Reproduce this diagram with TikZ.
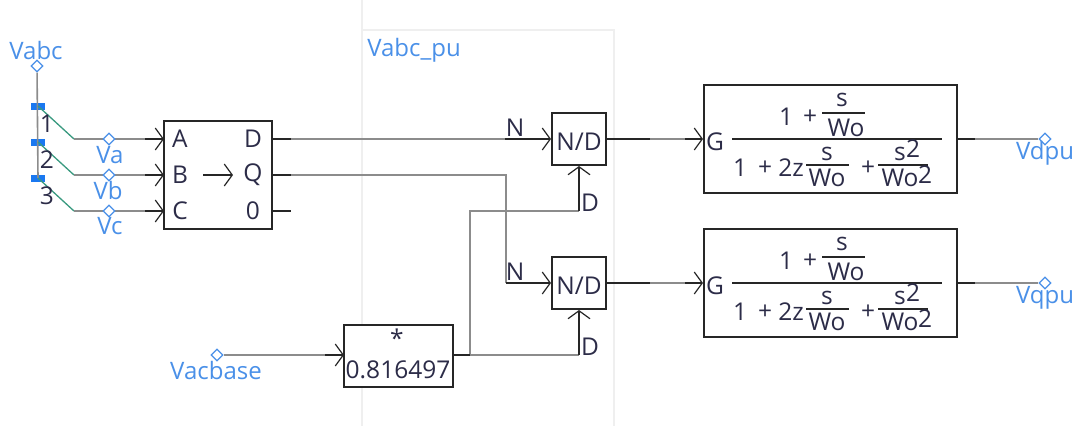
\documentclass[tikz,border=0pt]{standalone}
\usepackage{fontspec}
\setmainfont{Open Sans}
\usetikzlibrary{shapes.geometric, arrows.meta}
\definecolor{labelblue}{HTML}{4A90E8}
\definecolor{wiregrey}{HTML}{8C8C8C}
\definecolor{textdark}{HTML}{2C2C48}
\definecolor{sheetgrey}{HTML}{EFEFEF}
\definecolor{busgreen}{HTML}{3A9A80}
\definecolor{busblue}{HTML}{1A78F0}
\tikzset{
  >={Straight Barb[length=8pt,width=22pt,line width=1.2pt]},
  lbl/.style={inner sep=0pt, text=textdark, font=\fontsize{24.5}{27}\selectfont},
  sig/.style={inner sep=0pt, text=labelblue, font=\fontsize{24}{27}\selectfont},
  block/.style={rectangle, draw=black!85, line width=2pt, fill=white, inner sep=0pt},
  term/.style={diamond, draw=labelblue, fill=white, line width=1.3pt, inner sep=0pt, minimum size=12pt},
  wire/.style={draw=wiregrey, line width=1.6pt},
  stub/.style={draw=black!85, line width=2pt},
  busbar/.style={rectangle, fill=busblue, inner sep=0pt, minimum width=14pt, minimum height=7pt},
  fracline/.style={draw=black!85, line width=1.6pt}
}
\begin{document}
\begin{tikzpicture}[x=1pt, y=-1pt]
\useasboundingbox (0,0) rectangle (1080,426);
\coordinate (s1) at (362,426);
\coordinate (s2) at (362,0);
\coordinate (s3) at (362,30);
\coordinate (s4) at (614,30);
\coordinate (s5) at (614,426);
\draw[sheetgrey, line width=1.2pt] (s1) -- (s2);
\draw[sheetgrey, line width=1.2pt] (s3) -- (s4) -- (s5);
\node[sig] (vabcpu) at (414,50) {Vabc\_pu};

% bus and the three phases
\node[term] (vabc) at (37,66) {};
\node[sig] (vabclabel) at (36,50) {Vabc};
\node[busbar] (b1) at (38,106) {};
\node[busbar] (b2) at (38,142) {};
\node[busbar] (b3) at (38,178) {};
\draw[wire] (vabc) -- (b3.center);
\node[block, minimum width=108pt, minimum height=108pt] (abc) at (218,175) {};
\node[lbl] (pa) at (180,139) {A};
\node[lbl] (pb) at (180,175) {B};
\node[lbl] (pc) at (180,211) {C};
\node[lbl] (pd) at (253,139) {D};
\node[lbl] (pq) at (253,175) {Q};
\node[lbl] (p0) at (253,211) {0};
\coordinate (ar1) at (203,175);
\coordinate (ar2) at (233,175);
\draw[->, stub, line width=1.6pt] (ar1) -- (ar2);
\foreach \n/\ty/\nm/\lx/\ly in {1/139/Va/110/155, 2/175/Vb/108/190, 3/211/Vc/110/226} {
  \coordinate (k\n) at (74,\ty);
  \coordinate (h\n) at (145,\ty);
  \coordinate (e\n) at (164,\ty);
  \draw[busgreen, line width=1.3pt] (b\n.center) -- (k\n);
  \draw[wire] (k\n) -- (h\n);
  \draw[->, stub] (h\n) -- (e\n);
  \node[term] (t\n) at (109,\ty) {};
  \node[sig] (s\n) at (\lx,\ly) {\nm};
  \node[lbl] (n\n) at (47,\ty-15) {\n};
}

% divider blocks
\node[block, minimum width=54pt, minimum height=52pt] (nd1) at (579,139) {};
\node[block, minimum width=54pt, minimum height=52pt] (nd2) at (579,283) {};
\node[lbl] (ndt1) at (579,142) {N/D};
\node[lbl] (ndt2) at (579,286) {N/D};
\node[lbl] (nl1) at (515,128) {N};
\node[lbl] (nl2) at (515,272) {N};
\node[lbl] (dl1) at (590,203) {D};
\node[lbl] (dl2) at (590,347) {D};

% scale block
\node[block, minimum width=109pt, minimum height=62pt] (mult) at (398.5,356) {};
\node[lbl] (star) at (397,338) {*};
\node[lbl] (gain) at (398,370) {0.816497};
\node[term] (vac) at (217,355) {};
\node[sig] (vaclabel) at (216,370) {Vacbase};
\coordinate (vacin) at (325,355);
\coordinate (vacend) at (344,355);
\draw[wire] (vac) -- (vacin);
\draw[->, stub] (vacin) -- (vacend);

% wires between blocks
\coordinate (dout) at (291,139);
\coordinate (dn) at (505,139);
\coordinate (qout) at (291,175);
\coordinate (qc) at (506,175);
\coordinate (qn) at (506,283);
\coordinate (zout) at (291,211);
\coordinate (mout) at (470,355);
\coordinate (mup) at (470,211);
\coordinate (d1c) at (579,211);
\coordinate (d2c) at (579,355);
\draw[wire] (dout) -- (dn);
\draw[wire] (qout) -- (qc) -- (qn);
\draw[wire] (mout) -- (mup) -- (d1c);
\draw[wire] (mout) -- (d2c);
\draw[stub] (abc.east |- dout) -- (dout);
\draw[stub] (abc.east |- qout) -- (qout);
\draw[stub] (abc.east |- zout) -- (zout);
\draw[stub] (mult.east |- mout) -- (mout);
\draw[->, stub] (dn) -- (nd1.west |- dn);
\draw[->, stub] (qn) -- (nd2.west |- qn);
\draw[->, stub] (d1c) -- (nd1.south);
\draw[->, stub] (d2c) -- (nd2.south);

% second order filters
\foreach \n/\ty/\nm/\ly in {1/139/Vdpu/153, 2/283/Vqpu/298} {
  \node[block, minimum width=253pt, minimum height=108pt] (g\n) at (830.5,\ty) {};
  \node[lbl] (gt\n) at (715,\ty+3) {G};
  \coordinate (fa\n) at (732,\ty);
  \coordinate (fb\n) at (942,\ty);
  \draw[fracline] (fa\n) -- (fb\n);
  \node[lbl] (a\n) at (786,\ty-22) {1};
  \node[lbl] (b\n) at (810,\ty-22) {+};
  \coordinate (ua\n) at (822,\ty-26);
  \coordinate (ub\n) at (865,\ty-26);
  \draw[fracline] (ua\n) -- (ub\n);
  \node[lbl] (c\n) at (842,\ty-39) {s};
  \node[lbl] (d\n) at (846,\ty-11) {Wo};
  \node[lbl] (e\n) at (740,\ty+29) {1};
  \node[lbl] (f\n) at (765,\ty+29) {+};
  \node[lbl] (z\n) at (791,\ty+29) {2z};
  \coordinate (va\n) at (806,\ty+26);
  \coordinate (vb\n) at (849,\ty+26);
  \draw[fracline] (va\n) -- (vb\n);
  \node[lbl] (h\n) at (827,\ty+15) {s};
  \node[lbl] (i\n) at (827,\ty+39) {Wo};
  \node[lbl] (j\n) at (868,\ty+29) {+};
  \coordinate (wa\n) at (878,\ty+26);
  \coordinate (wb\n) at (928,\ty+26);
  \draw[fracline] (wa\n) -- (wb\n);
  \node[lbl] (m\n) at (900,\ty+15) {s};
  \node[lbl] (o\n) at (913,\ty+10) {2};
  \node[lbl] (p\n) at (900,\ty+39) {Wo};
  \node[lbl] (q\n) at (925,\ty+36) {2};
  \coordinate (oa\n) at (650,\ty);
  \coordinate (ob\n) at (685,\ty);
  \coordinate (oc\n) at (975,\ty);
  \node[term] (out\n) at (1045,\ty) {};
  \node[sig] (outl\n) at (1045,\ly) {\nm};
  \draw[stub] (nd\n.east |- oa\n) -- (oa\n);
  \draw[wire] (oa\n) -- (ob\n);
  \draw[->, stub] (ob\n) -- (g\n.west);
  \draw[stub] (g\n.east) -- (oc\n);
  \draw[wire] (oc\n) -- (out\n);
}
\end{tikzpicture}
\end{document}
